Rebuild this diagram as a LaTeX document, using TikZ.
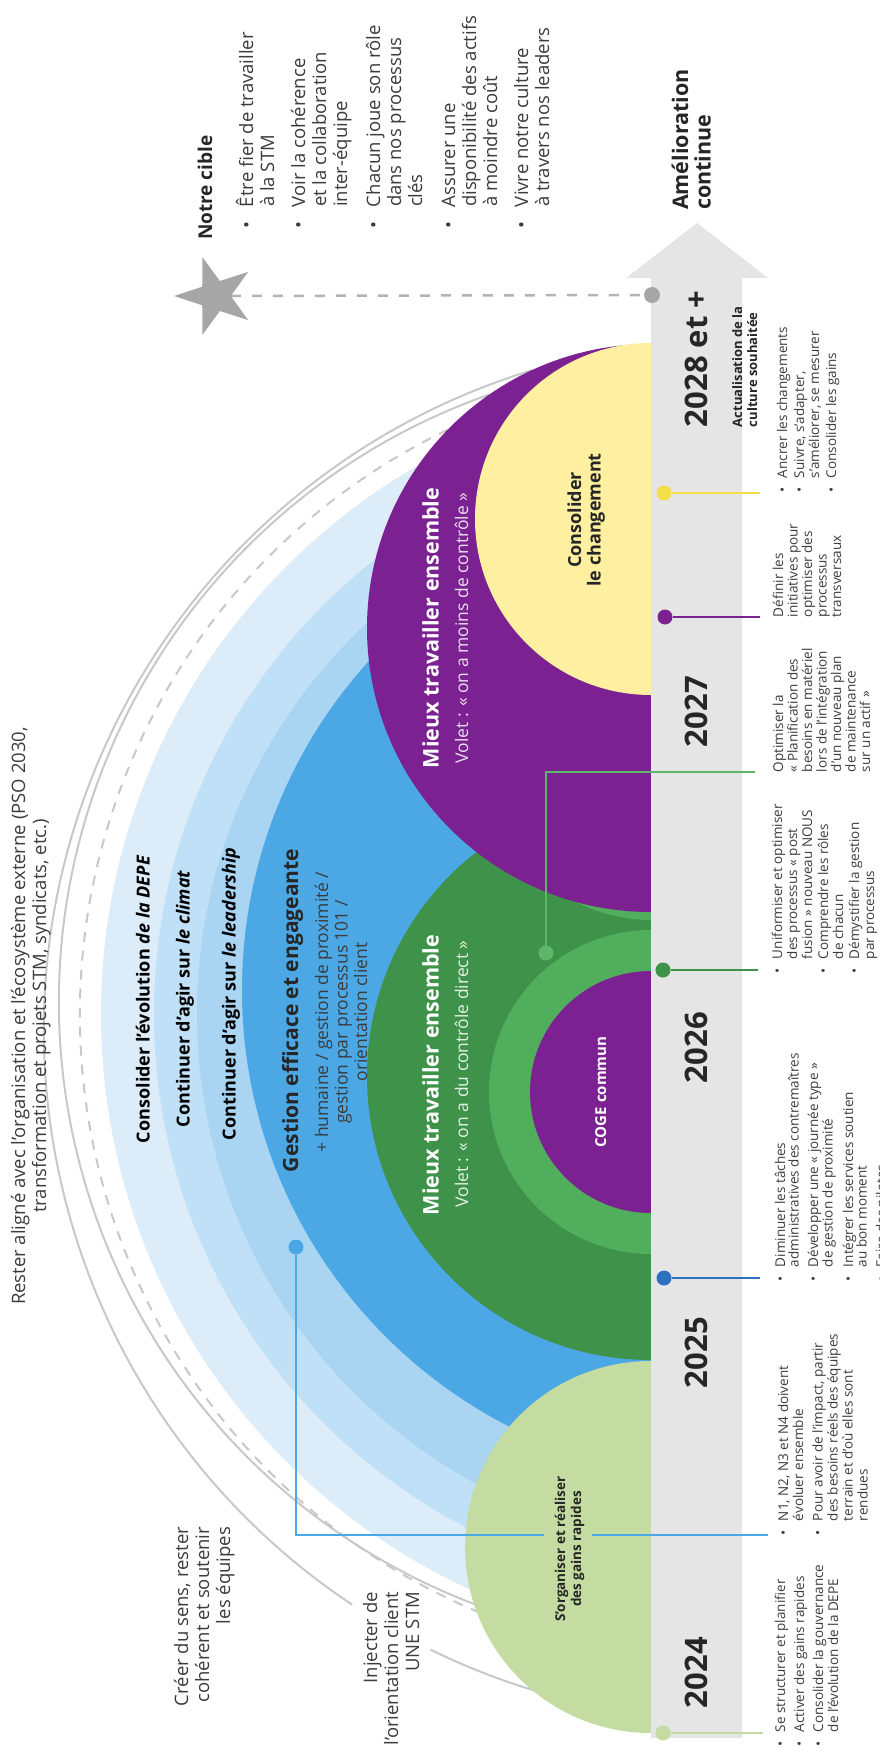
\documentclass[tikz,border=0pt]{standalone}
\usepackage{fontspec}
\setmainfont{Open Sans}
\usetikzlibrary{shapes.geometric}
\definecolor{cPurple}{HTML}{7C2191}
\definecolor{cGreen}{HTML}{3E9249}
\definecolor{cRing}{HTML}{50AE5C}
\definecolor{cLGreen}{HTML}{C4DBA2}
\definecolor{cYellow}{HTML}{FEF0A0}
\definecolor{cYDot}{HTML}{F4DE4A}
\definecolor{cMid}{HTML}{4CA7E5}
\definecolor{cBthree}{HTML}{A9D5F3}
\definecolor{cBtwo}{HTML}{BFE0F6}
\definecolor{cBone}{HTML}{DCEDF9}
\definecolor{cBand}{HTML}{E5E5E5}
\definecolor{cArc}{HTML}{C8C8C8}
\definecolor{cStar}{HTML}{A6A6A6}
\definecolor{cDark}{HTML}{262626}
\definecolor{cTxt}{HTML}{3C3C3C}
\definecolor{cBlueDot}{HTML}{2F6FC0}
\definecolor{cConnG}{HTML}{5CB868}
\definecolor{cVoletP}{HTML}{E8DDF0}
\definecolor{cVoletG}{HTML}{E3F1E3}
\newcommand\fl{\rule{0pt}{1em}}
\newcommand\bul{\makebox[14pt][l]{\textbullet}}
\newcommand\bigbul{\makebox[22pt][l]{\textbullet}}
\newcommand\ind{\hspace*{14pt}}
\newcommand\bigind{\hspace*{22pt}}
\begin{document}
\begin{tikzpicture}[x=1pt,y=-1pt,
  every node/.style={inner sep=0pt,outer sep=0pt},
  rt/.style={rotate=90},
  lbl/.style={rt,text=cTxt,font=\fontsize{18.5}{21}\selectfont},
  lst/.style={rt,text=cTxt,align=left,anchor=north west,font=\fontsize{13.5}{15}\selectfont},
  yearlbl/.style={rt,text=cDark,anchor=north west,font=\fontsize{31}{33}\selectfont\bfseries},
  bandtxt/.style={rt,anchor=north west,text=black,font=\fontsize{18}{20}\selectfont\bfseries},
  tdot/.style={circle,minimum size=15pt},
  conn/.style={line width=2.5pt},
  arcline/.style={draw=cArc,line width=2pt},
]
\useasboundingbox (0,0) rectangle (880,1752);

% ---- arcs and concentric bands (clipped at the band edge)
\begin{scope}
\clip (0,0) rectangle (651,1752);
\draw[arcline] ([shift={(734,1030)}]107:690pt) arc[start angle=107,end angle=236.4,radius=690pt];
\draw[arcline] ([shift={(734,1030)}]243.9:690pt) arc[start angle=243.9,end angle=270,radius=690pt];
\draw[arcline] ([shift={(703,1002)}]109.4:644pt) arc[start angle=109.4,end angle=270,radius=644pt];
\draw[arcline,dash pattern=on 10pt off 9pt] ([shift={(728,1014)}]115.6:648pt) arc[start angle=115.6,end angle=270,radius=648pt];
\fill[cBone] (734,1014) circle[radius=633pt];
\fill[cBtwo] (732,1014) circle[radius=578pt];
\fill[cBthree] (732,1014) circle[radius=535pt];
\fill[cMid] (732,990) circle[radius=490pt];
\fill[cGreen] (651,1076) circle[radius=284pt];
\fill[cRing] (651,756) circle[radius=164pt];
\fill[cPurple] (651,628) circle[radius=284pt];
\fill[cYellow] (651,519) circle[radius=176pt];
\fill[cRing] (651,1092) circle[radius=162pt];
\fill[cPurple] (651,1092) circle[radius=121pt];
\fill[cLGreen] (651,1547) circle[radius=186pt];
\end{scope}

% ---- timeline band with arrow head
\fill[cBand] (651,1738) -- (651,278) -- (626,278) -- (697,223) -- (768,278) -- (742,278) -- (742,1738) -- cycle;

% ---- target star
\node[star,star points=5,star point ratio=2.6,minimum size=82pt,fill=cStar,rotate=90] (star) at (215,296) {};
\node[tdot,fill=cStar,minimum size=16pt] (gdot) at (652,295) {};
\draw[cStar!85,line width=2.5pt,dash pattern=on 10pt off 11pt] (star) -- (gdot);

% ---- connectors
\node[tdot,fill=cMid] (dGest) at (296,1247) {};
\coordinate (eGest) at (768,1535);
\draw[conn,cMid] (dGest) |- (eGest);
\node[tdot,fill=cConnG] (dMieux) at (546,953) {};
\coordinate (eMieux) at (755,772);
\draw[conn,cConnG] (dMieux) |- (eMieux);

\node[tdot,fill=cYDot] (d2028) at (664,493) {};
\coordinate (e2028) at (760,493);
\draw[conn,cYDot] (d2028) -- (e2028);
\node[tdot,fill=cPurple] (d2027) at (665,617) {};
\coordinate (e2027) at (760,617);
\draw[conn,cPurple] (d2027) -- (e2027);
\node[tdot,fill=cGreen] (d2026) at (663,970) {};
\coordinate (e2026) at (758,970);
\draw[conn,cGreen] (d2026) -- (e2026);
\node[tdot,fill=cBlueDot] (d2025) at (664,1278) {};
\coordinate (e2025) at (760,1278);
\draw[conn,cBlueDot] (d2025) -- (e2025);
\node[tdot,fill=cLGreen] (d2024) at (663,1733) {};
\coordinate (e2024) at (763,1733);
\draw[conn,cLGreen] (d2024) -- (e2024);

% ---- texts in the circles
\node[bandtxt] (depe) at (131.5,1143) {\fl Consolider l’évolution \textit{de la DEPE}};
\node[bandtxt] (clim) at (171.5,1127) {\fl Continuer d’agir sur \textit{le climat}};
\node[bandtxt] (lead) at (217.5,1140) {\fl Continuer d’agir sur \textit{le leadership}};
\node[rt,anchor=north west,text=cDark,font=\fontsize{21}{23}\selectfont\bfseries] (gest) at (277,1172) {\fl Gestion efficace et engageante};
\node[rt,anchor=north,align=center,text=cTxt,font=\fontsize{17.5}{19.5}\selectfont] (gestsub) at (310.5,1012) {\fl+ humaine / gestion de proximité /\\gestion par processus 101 /\\orientation client};
\node[rt,anchor=north,text=white,font=\fontsize{21.5}{23}\selectfont\bfseries] (mpTitle) at (417,628) {\fl Mieux travailler ensemble};
\node[rt,anchor=north,text=cVoletP,font=\fontsize{17.5}{19}\selectfont] (mpVolet) at (450.5,628) {\fl Volet : « on a moins de contrôle »};
\node[rt,anchor=north,text=white,font=\fontsize{21.5}{23}\selectfont\bfseries] (mgTitle) at (417,1075) {\fl Mieux travailler ensemble};
\node[rt,anchor=north,text=cVoletG,font=\fontsize{17.5}{19}\selectfont] (mgVolet) at (450.5,1074) {\fl Volet : « on a du contrôle direct »};
\node[rt,anchor=north,text=white,font=\fontsize{15}{17}\selectfont\bfseries] (coge) at (591,1092) {\fl COGE commun};
\node[rt,anchor=north,align=center,text=cDark,font=\fontsize{18}{19.5}\selectfont\bfseries] (consol) at (563,520) {\fl Consolider\\le changement};
\node[rt,anchor=north,align=center,text=cDark,fill=cLGreen,inner ysep=8pt,inner xsep=2pt,font=\fontsize{13.5}{16}\selectfont\bfseries] (sorg) at (543.5,1549) {\fl S’organiser et réaliser\\des gains rapides};

% ---- outer labels
\node[lbl,anchor=north,align=center] (rester) at (6.5,1016) {\fl Rester aligné avec l’organisation et l’écosystème externe (PSO 2030,\\transformation et projets STM, syndicats, etc.)};
\node[lbl,anchor=north east,align=right] (creer) at (169.5,1527) {\fl Créer du sens, rester\\cohérent et soutenir\\les équipes};
\node[lbl,anchor=north east,align=right] (inj) at (358.5,1592) {\fl Injecter de\\l’orientation client\\UNE STM};

% ---- target
\node[rt,anchor=north west,text=cDark,font=\fontsize{19}{21}\selectfont\bfseries] (cible) at (193,240) {\fl Notre cible};
\node[lbl,align=left,anchor=north west] (c1) at (234.5,229) {\fl\bigbul Être fier de travailler\\\bigind à la STM};
\node[lbl,align=left,anchor=north west] (c2) at (286.5,229) {\fl\bigbul Voir la cohérence\\\bigind et la collaboration\\\bigind inter-équipe};
\node[lbl,align=left,anchor=north west] (c3) at (361.5,229) {\fl\bigbul Chacun joue son rôle\\\bigind dans nos processus\\\bigind clés};
\node[lbl,align=left,anchor=north west] (c4) at (436.5,229) {\fl\bigbul Assurer une\\\bigind disponibilité des actifs\\\bigind à moindre coût};
\node[lbl,align=left,anchor=north west] (c5) at (509.5,229) {\fl\bigbul Vivre notre culture\\\bigind à travers nos leaders};
\node[rt,anchor=north west,align=left,text=cDark,font=\fontsize{21.5}{22.5}\selectfont\bfseries] (amel) at (666.5,210) {\fl Amélioration\\continue};

% ---- years
\node[yearlbl] (y2028) at (676,427) {\fl 2028 et +};
\node[yearlbl] (y2027) at (676,747) {\fl 2027};
\node[yearlbl] (y2026) at (676,1083) {\fl 2026};
\node[yearlbl] (y2025) at (676,1388) {\fl 2025};
\node[yearlbl] (y2024) at (676,1708) {\fl 2024};
\node[rt,anchor=north west,align=left,text=cDark,font=\fontsize{13}{15}\selectfont\bfseries] (actu) at (729,427) {\fl Actualisation de la\\culture souhaitée};

% ---- lists
\node[lst] (l2028) at (773.5,492) {\fl\bul Ancrer les changements\\[2pt]\bul Suivre, s’adapter,\\\ind s’améliorer, se mesurer\\[2pt]\bul Consolider les gains};
\node[lst,font=\fontsize{13.5}{14.5}\selectfont] (l2027b) at (769.5,617) {\fl Définir les\\initiatives pour\\optimiser des\\processus\\transversaux};
\node[lst,font=\fontsize{13.5}{14.5}\selectfont] (l2027a) at (769.5,772) {\fl Optimiser la\\« Planification des\\besoins en matériel\\lors de l’intégration\\d’un nouveau plan\\de maintenance\\sur un actif »};
\node[lst] (l2026b) at (768.5,973) {\fl\bul Uniformiser et optimiser\\\ind des processus « post\\\ind fusion » nouveau NOUS\\[1pt]\bul Comprendre les rôles\\\ind de chacun\\[1pt]\bul Démystifier la gestion\\\ind par processus};
\node[lst,font=\fontsize{13.5}{13.5}\selectfont] (l2026a) at (771.5,1281) {\fl\bul Diminuer les tâches\\\ind administratives des contremaîtres\\[6pt]\bul Développer une « journée type »\\\ind de gestion de proximité\\[6pt]\bul Intégrer les services soutien\\\ind au bon moment\\[6pt]\bul Faire des pilotes};
\node[lst] (l2025) at (774.5,1535) {\fl\bul N1, N2, N3 et N4 doivent\\\ind évoluer ensemble\\[4.5pt]\bul Pour avoir de l’impact, partir\\\ind des besoins réels des équipes\\\ind terrain et d’où elles sont\\\ind rendues};
\node[lst] (l2024) at (771.5,1746) {\fl\bul Se structurer et planifier\\[4pt]\bul Activer des gains rapides\\[4pt]\bul Consolider la gouvernance\\\ind de l’évolution de la DEPE};
\end{tikzpicture}
\end{document}
